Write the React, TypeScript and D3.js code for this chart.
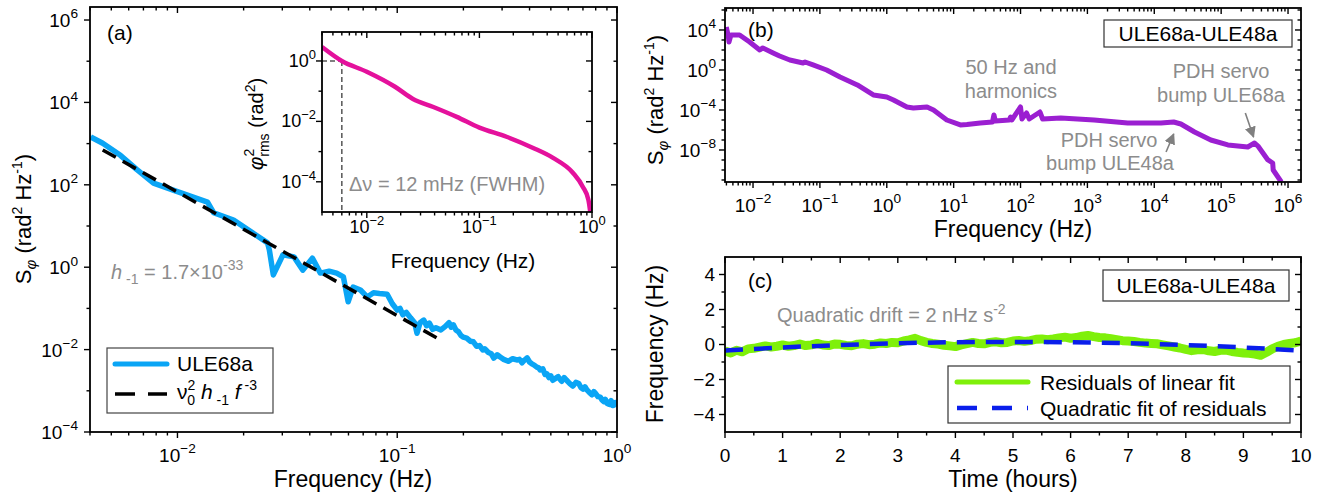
import React from 'react';
import * as d3 from 'd3';

const FONT = '"Liberation Sans", Arial, Helvetica, sans-serif';
const GRAY = '#8c8c8c';

// (a) phase noise PSD of ULE68a, [frequency Hz, rad^2/Hz]
const ule68aPsd: [number, number][] = [
  [0.00403, 1450], [0.00457, 1020], [0.0055, 520], [0.0065, 240], [0.00778, 110],
  [0.01, 68], [0.0137, 38], [0.0146, 21], [0.018, 14], [0.0257, 3.9], [0.0262, 2.6],
  [0.0273, 0.65], [0.0302, 2.0], [0.0339, 1.78], [0.0372, 0.85], [0.0411, 1.66],
  [0.0447, 0.72], [0.049, 0.8], [0.053, 0.72], [0.0569, 0.58], [0.0598, 0.145],
  [0.063, 0.33], [0.068, 0.28], [0.073, 0.19], [0.078, 0.24], [0.083, 0.23], [0.09, 0.22],
  [0.095, 0.13], [0.1, 0.091], [0.103, 0.1], [0.106, 0.07], [0.11, 0.08], [0.115, 0.059],
  [0.12, 0.045], [0.123, 0.025], [0.127, 0.045], [0.132, 0.052], [0.136, 0.038], [0.14, 0.044],
  [0.145, 0.031], [0.15, 0.034], [0.158, 0.03], [0.165, 0.036], [0.172, 0.045], [0.176, 0.035],
  [0.18, 0.04], [0.185, 0.03], [0.19, 0.027], [0.195, 0.022], [0.2, 0.02], [0.207, 0.019],
  [0.215, 0.016], [0.222, 0.0155], [0.23, 0.012], [0.237, 0.0125], [0.245, 0.0098],
  [0.25, 0.0105], [0.26, 0.0085], [0.268, 0.0079], [0.275, 0.0062], [0.285, 0.0075],
  [0.294, 0.0066], [0.305, 0.0058], [0.32, 0.0052], [0.335, 0.006], [0.35, 0.0056],
  [0.36, 0.0058], [0.37, 0.0048], [0.38, 0.0056], [0.39, 0.0063], [0.4, 0.005], [0.41, 0.0045],
  [0.42, 0.0042], [0.43, 0.0038], [0.44, 0.0036], [0.447, 0.0032], [0.46, 0.0034],
  [0.47, 0.0025], [0.48, 0.0026], [0.49, 0.0021], [0.5, 0.0023], [0.51, 0.0018],
  [0.525, 0.002], [0.54, 0.0022], [0.55, 0.0019], [0.56, 0.0017], [0.575, 0.0021],
  [0.59, 0.0018], [0.61, 0.0015], [0.63, 0.0013], [0.65, 0.0016], [0.67, 0.0015],
  [0.685, 0.0012], [0.7, 0.0011], [0.715, 0.00125], [0.73, 0.00105], [0.75, 0.0009],
  [0.77, 0.0008], [0.785, 0.00095], [0.8, 0.00085], [0.82, 0.00072], [0.84, 0.0007],
  [0.855, 0.0006], [0.87, 0.00055], [0.885, 0.00062], [0.9, 0.0005], [0.92, 0.00047],
  [0.94, 0.00058], [0.955, 0.00044], [0.97, 0.00045], [0.985, 0.00052], [1.0, 0.0005],
];
// nu0^2 h_-1 f^-3 line (end points)
const fitLine: [number, number][] = [[0.00457, 700], [0.152, 0.019]];

// inset: integrated phase noise
const phiRms: [number, number][] = [
  [0.004, 2.9], [0.006, 1.0], [0.01, 0.44], [0.0178, 0.14], [0.0257, 0.055],
  [0.039, 0.03], [0.063, 0.0141], [0.1, 0.0062], [0.174, 0.0031], [0.3, 0.00132],
  [0.447, 0.00063], [0.676, 0.0002], [0.83, 0.0000676], [0.93, 0.000025], [0.965, 0.00001],
];
const fwhmMark = { f: 0.006, level: 1 };

// (b) beat note phase noise PSD
const beatPsd: [number, number][] = [
  [0.00398, 2.0e4], [0.00427, 2.5e3], [0.00437, 6.3e2], [0.00468, 3.2e3], [0.0063, 3.2e3],
  [0.0089, 6.3e2], [0.0126, 1.0e2], [0.014, 1.6e2], [0.02, 50], [0.025, 25], [0.0355, 10],
  [0.056, 5.0], [0.06, 6.3], [0.079, 3.2], [0.126, 1.0], [0.2, 0.2], [0.363, 0.032],
  [0.63, 0.0032], [1.0, 0.002], [1.26, 1.0e-3], [2.0, 2.0e-4], [2.5, 1.6e-4], [4.0, 2.0e-4],
  [5.0, 1.0e-4], [7.9, 1.0e-5], [12.6, 3.2e-6], [15.8, 3.5e-6], [25, 5.0e-6], [38, 6.3e-6],
  [40, 3.2e-5], [42, 7.9e-6], [68, 1.0e-5], [71, 2.0e-5], [74, 1.0e-5], [100, 2.0e-4],
  [105, 1.26e-5], [123, 5.0e-5], [135, 1.26e-5], [195, 6.3e-5], [214, 1.26e-5], [400, 1.6e-5],
  [1260, 1.0e-5], [4000, 5.0e-6], [12600, 5.0e-6], [19500, 6.3e-6], [25000, 4.0e-6],
  [40000, 6.3e-7], [70000, 1.0e-7], [126000, 3.2e-8], [250000, 2.0e-8], [316000, 5.0e-8],
  [355000, 2.5e-8], [500000, 1.0e-9], [590000, 5.0e-10], [600000, 1.0e-10], [794000, 6.3e-12],
];

// (c) residuals, [hours, Hz]
const residuals: [number, number][] = [
  [0, -0.38], [0.1, -0.48], [0.2, -0.33], [0.3, -0.42], [0.4, -0.25], [0.5, -0.22],
  [0.6, -0.15], [0.7, -0.08], [0.8, -0.14], [0.9, -0.1], [1.0, -0.03], [1.1, -0.1],
  [1.2, -0.06], [1.3, 0.03], [1.4, -0.06], [1.5, -0.02], [1.6, 0.06], [1.7, -0.03],
  [1.8, -0.06], [1.9, 0.03], [2.0, 0.01], [2.1, -0.05], [2.2, -0.07], [2.3, 0.02],
  [2.4, 0.05], [2.5, -0.01], [2.6, 0.02], [2.7, 0.09], [2.8, 0.06], [2.9, 0.12],
  [3.0, 0.1], [3.1, 0.2], [3.2, 0.26], [3.3, 0.35], [3.4, 0.22], [3.5, 0.12], [3.6, 0.06],
  [3.7, 0.02], [3.8, -0.04], [3.9, -0.08], [4.0, -0.12], [4.1, -0.02], [4.2, 0.05],
  [4.3, 0.12], [4.4, 0.06], [4.5, 0.04], [4.6, 0.12], [4.7, 0.16], [4.8, 0.1], [4.9, 0.12],
  [5.0, 0.2], [5.1, 0.23], [5.2, 0.18], [5.3, 0.22], [5.4, 0.3], [5.5, 0.32], [5.6, 0.27],
  [5.7, 0.32], [5.8, 0.38], [5.9, 0.42], [6.0, 0.36], [6.1, 0.4], [6.2, 0.48], [6.3, 0.52],
  [6.4, 0.45], [6.5, 0.4], [6.6, 0.38], [6.7, 0.33], [6.8, 0.28], [6.9, 0.22], [7.0, 0.2],
  [7.1, 0.17], [7.2, 0.12], [7.3, 0.08], [7.4, 0.06], [7.5, 0.04], [7.6, -0.02],
  [7.7, -0.08], [7.8, -0.14], [7.9, -0.2], [8.0, -0.28], [8.1, -0.35], [8.2, -0.3],
  [8.3, -0.28], [8.4, -0.36], [8.5, -0.4], [8.6, -0.33], [8.7, -0.32], [8.8, -0.4],
  [8.9, -0.45], [9.0, -0.48], [9.1, -0.5], [9.2, -0.55], [9.3, -0.62], [9.4, -0.45],
  [9.5, -0.25], [9.6, -0.1], [9.7, 0.0], [9.8, 0.06], [9.9, 0.1], [10, 0.2],
];
const quadFit: [number, number][] = [
  [0, -0.35], [1, -0.17], [2, -0.03], [3, 0.07], [4, 0.13], [5, 0.15], [6, 0.13],
  [7, 0.07], [8, -0.03], [9, -0.17], [10, -0.35],
];

const aYLabels = [-4, -2, 0, 2, 4, 6];
const aXLabels = [-2, -1, 0];
const insetYLabels = [-4, -2, 0];
const insetXLabels = [-2, -1, 0];
const bYLabels = [-8, -4, 0, 4];
const bXLabels = [-2, -1, 0, 1, 2, 3, 4, 5, 6];
const cXLabels = [0, 1, 2, 3, 4, 5, 6, 7, 8, 9, 10];
const cYLabels = [-4, -2, 0, 2, 4];

// scales
const xA = d3.scaleLog().domain([0.004, 1]).range([90, 617]);
const yA = d3.scaleLog().domain([1e-4, 2.07e6]).range([432, 7]);
const xI = d3.scaleLog().domain([0.004, 1]).range([322, 592]);
const yI = d3.scaleLog().domain([1e-5, 9.1]).range([212, 32]);
const xB = d3.scaleLog().domain([0.00381, 1.563e6]).range([725, 1301]);
const yB = d3.scaleLog().domain([6.3e-12, 1.58e6]).range([182, 8]);
const xC = d3.scaleLinear().domain([0, 10]).range([725, 1301]);
const yC = d3.scaleLinear().domain([-5, 5]).range([432, 257]);

function logMinor(lo: number, hi: number) {
  const out: number[] = [];
  for (let k = Math.floor(Math.log10(lo)); k <= Math.ceil(Math.log10(hi)); k++) {
    for (let m = 2; m < 10; m++) {
      const v = m * Math.pow(10, k);
      if (v >= lo && v <= hi) out.push(v);
    }
  }
  return out;
}
const decades = (a: number, b: number, step = 1) => d3.range(a, b + 1, step).map((e) => Math.pow(10, e));

type Ax = { s: (v: number) => number; major: number[]; minor: number[] };

function Frame({ x0, x1, y0, y1, xt, yt }: { x0: number; x1: number; y0: number; y1: number; xt: Ax; yt: Ax }) {
  const M = 6;
  const m = 3.5;
  const xs = [...xt.major.map((v) => [v, M]), ...xt.minor.map((v) => [v, m])];
  const ys = [...yt.major.map((v) => [v, M]), ...yt.minor.map((v) => [v, m])];
  return (
    <g stroke="#000" strokeWidth={1.4} fill="none">
      {xs.map(([v, l], i) => {
        const p = xt.s(v);
        return (
          <g key={'x' + i}>
            <line x1={p} x2={p} y1={y1} y2={y1 + l} />
            <line x1={p} x2={p} y1={y0} y2={y0 + l} />
          </g>
        );
      })}
      {ys.map(([v, l], i) => {
        const p = yt.s(v);
        return (
          <g key={'y' + i}>
            <line x1={x0} x2={x0 - l} y1={p} y2={p} />
            <line x1={x1} x2={x1 - l} y1={p} y2={p} />
          </g>
        );
      })}
      <rect x={x0} y={y0} width={x1 - x0} height={y1 - y0} strokeWidth={1.8} />
    </g>
  );
}

function Pow10({ x, y, e, size, anchor }: { x: number; y: number; e: number; size: number; anchor: string }) {
  return (
    <text x={x} y={y} fontSize={size} textAnchor={anchor}>
      10
      <tspan dy={-size * 0.45} fontSize={size * 0.72}>{e < 0 ? `\u2212${-e}` : `${e}`}</tspan>
    </text>
  );
}

function SphiTitle({ x, y }: { x: number; y: number }) {
  return (
    <text transform={`translate(${x},${y}) rotate(-90)`} textAnchor="middle" fontSize={22}>
      S<tspan dy={5} fontSize={15} fontStyle="italic">φ</tspan>
      <tspan dy={-5}> (rad</tspan>
      <tspan dy={-9} fontSize={14}>2</tspan>
      <tspan dy={9}> Hz</tspan>
      <tspan dy={-9} fontSize={14}>-1</tspan>
      <tspan dy={9}>)</tspan>
    </text>
  );
}

export default function App() {
  const lineA = d3.line<[number, number]>().x((d) => xA(d[0])).y((d) => yA(d[1]));
  const lineI = d3.line<[number, number]>().x((d) => xI(d[0])).y((d) => yI(d[1])).curve(d3.curveMonotoneX);
  const lineB = d3.line<[number, number]>().x((d) => xB(d[0])).y((d) => yB(d[1]));
  const lineC = d3.line<[number, number]>().x((d) => xC(d[0])).y((d) => yC(d[1]));
  const lineQ = d3.line<[number, number]>().x((d) => xC(d[0])).y((d) => yC(d[1])).curve(d3.curveNatural);

  const axA: [Ax, Ax] = [
    { s: xA, major: decades(-2, 0), minor: logMinor(0.004, 1) },
    { s: yA, major: decades(-4, 6, 2), minor: decades(-3, 5, 2) },
  ];
  const axI: [Ax, Ax] = [
    { s: xI, major: decades(-2, 0), minor: logMinor(0.004, 1) },
    { s: yI, major: decades(-4, 0, 2), minor: decades(-3, -1, 2) },
  ];
  const axB: [Ax, Ax] = [
    { s: xB, major: decades(-2, 6), minor: logMinor(0.00381, 1.563e6) },
    { s: yB, major: decades(-8, 4, 4), minor: decades(-11, 6).filter((v) => ![1e-8, 1e-4, 1, 1e4].includes(v)) },
  ];
  const axC: [Ax, Ax] = [
    { s: xC, major: d3.range(0, 11), minor: d3.range(0.5, 10, 1) },
    { s: yC, major: [-4, -2, 0, 2, 4], minor: [-3, -1, 1, 3] },
  ];

  const arrowR = { from: [2.3e5, 5e-5], to: [3.05e5, 2e-7] };
  const arrowL = { from: [1.5e4, 6.3e-9], to: [1.95e4, 4e-7] };

  return (
    <svg width={1322} height={496} style={{ position: 'absolute', left: 0, top: 0, background: '#fff' }} fontFamily={FONT}>
      <defs>
        <clipPath id="clipA"><rect x={90} y={7} width={527} height={425} /></clipPath>
        <clipPath id="clipI"><rect x={322} y={32} width={270} height={180} /></clipPath>
        <clipPath id="clipB"><rect x={725} y={8} width={576} height={174} /></clipPath>
        <clipPath id="clipC"><rect x={725} y={257} width={576} height={175} /></clipPath>
        <marker id="arr" viewBox="0 0 10 10" refX={9} refY={5} markerWidth={7} markerHeight={7} orient="auto">
          <path d="M0,0 L10,5 L0,10 z" fill="#808080" />
        </marker>
      </defs>

      {/* ---------- panel (a) ---------- */}
      <g clipPath="url(#clipA)" fill="none">
        <path d={lineA(ule68aPsd) ?? ''} stroke="#0aa5f5" strokeWidth={5.5} strokeLinejoin="round" />
        <path d={lineA(fitLine) ?? ''} stroke="#000" strokeWidth={3.5} strokeDasharray="15 8" />
      </g>
      <Frame x0={90} x1={617} y0={7} y1={432} xt={axA[0]} yt={axA[1]} />
      {aYLabels.map((e) => <Pow10 key={e} x={78} y={yA(Math.pow(10, e)) + 7} e={e} size={19} anchor="end" />)}
      {aXLabels.map((e) => <Pow10 key={e} x={xA(Math.pow(10, e))} y={462} e={e} size={19} anchor="middle" />)}
      <text x={353} y={487} fontSize={23} textAnchor="middle">Frequency (Hz)</text>
      <SphiTitle x={31} y={219} />
      <text x={107} y={40} fontSize={21}>(a)</text>
      <text x={111} y={279} fontSize={20} fill={GRAY}>
        <tspan fontStyle="italic">h</tspan>
        <tspan dy={5} fontSize={14}> -1</tspan>
        <tspan dy={-5}> = 1.7×10</tspan>
        <tspan dy={-9} fontSize={14}>-33</tspan>
      </text>
      {/* legend (a) */}
      <rect x={107} y={348} width={166} height={65} fill="#fff" stroke="#444" strokeWidth={1.2} />
      <line x1={115} x2={167} y1={364} y2={364} stroke="#0aa5f5" strokeWidth={5} strokeLinecap="round" />
      <text x={177} y={371} fontSize={21}>ULE68a</text>
      <line x1={115} x2={167} y1={394} y2={394} stroke="#000" strokeWidth={3.5} strokeDasharray="20 13" />
      <text x={177} y={399} fontSize={21}>
        ν<tspan dy={-9} fontSize={14}>2</tspan>
        <tspan dx={-8} dy={15} fontSize={14}>0</tspan>
        <tspan dy={-6}> </tspan>
        <tspan fontStyle="italic">h</tspan>
        <tspan dy={6} fontSize={14}> -1</tspan>
        <tspan dy={-6}> </tspan>
        <tspan fontStyle="italic">f</tspan>
        <tspan dy={-9} fontSize={14}> -3</tspan>
      </text>

      {/* ---------- inset ---------- */}
      <rect x={322} y={32} width={270} height={180} fill="#fff" />
      <g stroke="#555" strokeWidth={1.5} strokeDasharray="5 3" fill="none">
        <line x1={322} x2={xI(fwhmMark.f)} y1={yI(fwhmMark.level)} y2={yI(fwhmMark.level)} />
        <line x1={xI(fwhmMark.f)} x2={xI(fwhmMark.f)} y1={yI(fwhmMark.level)} y2={212} />
      </g>
      <g clipPath="url(#clipI)" fill="none">
        <path d={lineI(phiRms) ?? ''} stroke="#e4119c" strokeWidth={4.5} />
      </g>
      <Frame x0={322} x1={592} y0={32} y1={212} xt={axI[0]} yt={axI[1]} />
      {insetYLabels.map((e) => <Pow10 key={e} x={316} y={yI(Math.pow(10, e)) + 6} e={e} size={18} anchor="end" />)}
      {insetXLabels.map((e) => <Pow10 key={e} x={xI(Math.pow(10, e))} y={233} e={e} size={18} anchor="middle" />)}
      <text x={463} y={268} fontSize={21} textAnchor="middle">Frequency (Hz)</text>
      <text transform="translate(263,124) rotate(-90)" textAnchor="middle" fontSize={20}>
        <tspan fontStyle="italic" fontSize={21}>φ</tspan>
        <tspan dy={-9} fontSize={14}>2</tspan>
        <tspan dx={-8} dy={15} fontSize={14}>rms</tspan>
        <tspan dy={-6}> (rad</tspan>
        <tspan dy={-8} fontSize={14}>2</tspan>
        <tspan dy={8}>)</tspan>
      </text>
      <text x={349} y={191} fontSize={20} fill={GRAY}>Δν = 12 mHz (FWHM)</text>

      {/* ---------- panel (b) ---------- */}
      <g clipPath="url(#clipB)" fill="none">
        <path d={lineB(beatPsd) ?? ''} stroke="#9b1fd1" strokeWidth={5} strokeLinejoin="round" />
      </g>
      <Frame x0={725} x1={1301} y0={8} y1={182} xt={axB[0]} yt={axB[1]} />
      {bYLabels.map((e) => <Pow10 key={e} x={716} y={yB(Math.pow(10, e)) + 7} e={e} size={19} anchor="end" />)}
      {bXLabels.map((e) => <Pow10 key={e} x={xB(Math.pow(10, e))} y={212} e={e} size={19} anchor="middle" />)}
      <text x={1013} y={237} fontSize={23} textAnchor="middle">Frequency (Hz)</text>
      <SphiTitle x={663} y={100} />
      <text x={748} y={37} fontSize={21}>(b)</text>
      <rect x={1104} y={20} width={188} height={27} fill="#fff" stroke="#333" strokeWidth={1.2} />
      <text x={1198} y={41} fontSize={21} textAnchor="middle">ULE68a-ULE48a</text>
      <g fill={GRAY} fontSize={20} textAnchor="middle">
        <text x={1011} y={74}>50 Hz and</text>
        <text x={1011} y={98}>harmonics</text>
        <text x={1221} y={78}>PDH servo</text>
        <text x={1221} y={102}>bump ULE68a</text>
        <text x={1109} y={147}>PDH servo</text>
        <text x={1110} y={170}>bump ULE48a</text>
      </g>
      <g stroke="#808080" strokeWidth={1.6} markerEnd="url(#arr)">
        <line x1={xB(arrowR.from[0])} y1={yB(arrowR.from[1])} x2={xB(arrowR.to[0])} y2={yB(arrowR.to[1])} />
        <line x1={xB(arrowL.from[0])} y1={yB(arrowL.from[1])} x2={xB(arrowL.to[0])} y2={yB(arrowL.to[1])} />
      </g>

      {/* ---------- panel (c) ---------- */}
      <g clipPath="url(#clipC)" fill="none">
        <path d={lineC(residuals) ?? ''} stroke="#7ff00a" strokeWidth={9} strokeLinejoin="round" />
        <path d={lineQ(quadFit) ?? ''} stroke="#0a1eeb" strokeWidth={4.5} strokeDasharray="18 11" />
      </g>
      <Frame x0={725} x1={1301} y0={257} y1={432} xt={axC[0]} yt={axC[1]} />
      {cYLabels.map((v) => (
        <text key={v} x={715} y={yC(v) + 6} fontSize={19} textAnchor="end">{v < 0 ? `\u2212${-v}` : v}</text>
      ))}
      {cXLabels.map((v) => (
        <text key={v} x={xC(v)} y={462} fontSize={19} textAnchor="middle">{v}</text>
      ))}
      <text x={1013} y={487} fontSize={23} textAnchor="middle">Time (hours)</text>
      <text transform="translate(663,344) rotate(-90)" fontSize={23} textAnchor="middle">Frequency (Hz)</text>
      <text x={748} y={288} fontSize={21}>(c)</text>
      <text x={777} y={322} fontSize={20} fill={GRAY}>
        Quadratic drift = 2 nHz s<tspan dy={-8} fontSize={14}>-2</tspan>
      </text>
      <rect x={1103} y={270} width={186} height={31} fill="#fff" stroke="#333" strokeWidth={1.2} />
      <text x={1196} y={293} fontSize={21} textAnchor="middle">ULE68a-ULE48a</text>
      <rect x={948} y={366} width={342} height={57} fill="#fff" stroke="#333" strokeWidth={1.2} />
      <line x1={957} x2={1028} y1={382} y2={382} stroke="#7ff00a" strokeWidth={5} strokeLinecap="round" />
      <text x={1040} y={390} fontSize={21}>Residuals of linear fit</text>
      <line x1={957} x2={1028} y1={408} y2={408} stroke="#0a1eeb" strokeWidth={4.5} strokeDasharray="20 15" />
      <text x={1040} y={416} fontSize={21}>Quadratic fit of residuals</text>
    </svg>
  );
}
